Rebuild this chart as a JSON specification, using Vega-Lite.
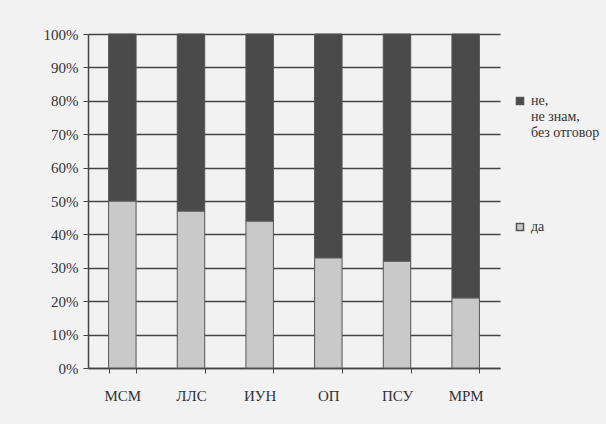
{
  "$schema": "https://vega.github.io/schema/vega-lite/v6.json",
  "width": 412,
  "height": 334,
  "autosize": {"type": "none"},
  "padding": {"left": 88, "top": 34, "right": 106, "bottom": 56},
  "background": "#f2f2f2",
  "data": {
    "values": [
      {"group": "МСМ", "answer": "да", "value": 50},
      {"group": "МСМ", "answer": "не, не знам, без отговор", "value": 50},
      {"group": "ЛЛС", "answer": "да", "value": 47},
      {"group": "ЛЛС", "answer": "не, не знам, без отговор", "value": 53},
      {"group": "ИУН", "answer": "да", "value": 44},
      {"group": "ИУН", "answer": "не, не знам, без отговор", "value": 56},
      {"group": "ОП", "answer": "да", "value": 33},
      {"group": "ОП", "answer": "не, не знам, без отговор", "value": 67},
      {"group": "ПСУ", "answer": "да", "value": 32},
      {"group": "ПСУ", "answer": "не, не знам, без отговор", "value": 68},
      {"group": "МРМ", "answer": "да", "value": 21},
      {"group": "МРМ", "answer": "не, не знам, без отговор", "value": 79}
    ]
  },
  "config": {
    "font": "Liberation Serif",
    "view": {"stroke": null},
    "axis": {"labelFont": "Liberation Serif"},
    "legend": {"labelFont": "Liberation Serif"}
  },
  "mark": {"type": "bar", "stroke": "#555555", "strokeWidth": 1},
  "encoding": {
    "x": {
      "field": "group",
      "type": "nominal",
      "sort": null,
      "title": null,
      "scale": {"paddingInner": 0.6, "paddingOuter": 0.3},
      "axis": {
        "labelAngle": 0,
        "labelFontSize": 15,
        "labelColor": "#333333",
        "labelPadding": 15,
        "tickBand": "extent",
        "tickSize": 5,
        "tickColor": "#444444",
        "domainColor": "#444444",
        "domainWidth": 1.5
      }
    },
    "y": {
      "field": "value",
      "type": "quantitative",
      "stack": "normalize",
      "title": null,
      "scale": {"domain": [0, 1]},
      "axis": {
        "format": ".0%",
        "values": [0, 0.1, 0.2, 0.3, 0.4, 0.5, 0.6, 0.7, 0.8, 0.9, 1],
        "labelFontSize": 15,
        "labelColor": "#333333",
        "labelPadding": 5,
        "tickSize": 5,
        "tickColor": "#444444",
        "domainColor": "#444444",
        "domainWidth": 1.5,
        "grid": true,
        "gridColor": "#444444",
        "gridWidth": 1.5
      }
    },
    "color": {
      "field": "answer",
      "type": "nominal",
      "sort": ["не, не знам, без отговор", "да"],
      "scale": {
        "domain": ["не, не знам, без отговор", "да"],
        "range": ["#4a4a4a", "#c9c9c9"]
      },
      "legend": {
        "title": null,
        "orient": "none",
        "legendX": 425,
        "legendY": 60,
        "symbolType": "square",
        "symbolSize": 50,
        "symbolStrokeColor": "#555555",
        "labelFontSize": 14,
        "labelColor": "#333333",
        "labelOffset": 4,
        "labelLimit": 200,
        "rowPadding": 80,
        "labelExpr": "datum.label == 'да' ? 'да' : ['не,', 'не знам,', 'без отговор']"
      }
    },
    "order": {"field": "answer", "sort": "ascending"}
  }
}
